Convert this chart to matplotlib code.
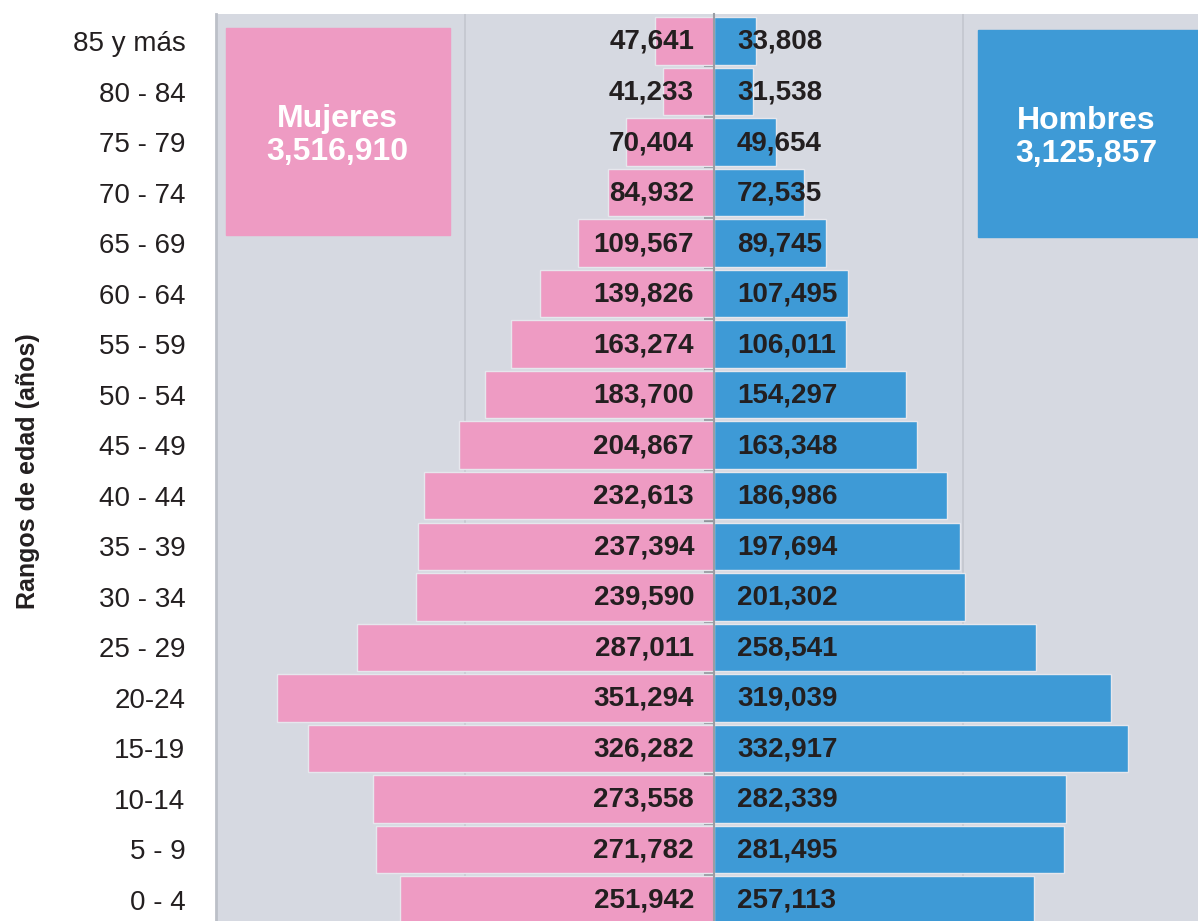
import numpy as np
import matplotlib
matplotlib.use("Agg")
import matplotlib.pyplot as plt
from matplotlib import font_manager
from matplotlib.patches import Rectangle

# age groups, youngest first (bottom of the pyramid)
grupos = ["0 - 4", "5 - 9", "10-14", "15-19", "20-24", "25 - 29", "30 - 34",
          "35 - 39", "40 - 44", "45 - 49", "50 - 54", "55 - 59", "60 - 64",
          "65 - 69", "70 - 74", "75 - 79", "80 - 84", "85 y más"]
mujeres = [251942, 271782, 273558, 326282, 351294, 287011, 239590, 237394,
           232613, 204867, 183700, 163274, 139826, 109567, 84932, 70404,
           41233, 47641]
hombres = [257113, 281495, 282339, 332917, 319039, 258541, 201302, 197694,
           186986, 163348, 154297, 106011, 107495, 89745, 72535, 49654,
           31538, 33808]
total_mujeres = 3516910
total_hombres = 3125857

PINK = "#ee9bc3"
BLUE = "#3e9ad6"
BG = "#d6d9e1"
DARK = "#231f20"
GRID = "#c3c6ce"

installed = {f.name for f in font_manager.fontManager.ttflist}
has_narrow = "Liberation Sans Narrow" in installed
plt.rcParams["font.family"] = ["Liberation Sans", "DejaVu Sans"]

W, H = 1198, 921
fig = plt.figure(figsize=(W / 100, H / 100), dpi=100)
ax = fig.add_axes([216 / W, 0, (W - 216) / W, 907 / H])
ax.set_facecolor(BG)

y = np.arange(len(grupos))
ax.barh(y, -np.array(mujeres), height=0.94, color=PINK,
        edgecolor="#e6e7ed", linewidth=1.0, zorder=2)
ax.barh(y, hombres, height=0.94, color=BLUE,
        edgecolor="#e6e7ed", linewidth=1.0, zorder=2)

for yi, m, h in zip(y, mujeres, hombres):
    ax.annotate(f"{m:,}", (0, yi), xytext=(-20, -1), textcoords="offset pixels",
                ha="right", va="center", fontsize=20, fontweight="bold",
                color=DARK, zorder=4)
    ax.annotate(f"{h:,}", (0, yi), xytext=(23, -1), textcoords="offset pixels",
                ha="left", va="center", fontsize=20, fontweight="bold",
                color=DARK, zorder=4)

ax.set_xlim(-400000, 388755)
ax.set_ylim(-0.416, 17.534)
ax.set_xticks([-200000, 200000])
ax.xaxis.grid(True, color=GRID, linewidth=1.2, zorder=0)
ax.set_axisbelow(True)
ax.tick_params(axis="x", bottom=False, labelbottom=False)

ax.set_yticks(y[:-1] + 0.5, minor=True)
ax.set_yticks(y)
ax.set_yticklabels(grupos)
ax.tick_params(axis="y", which="major", length=0, pad=22,
               labelsize=20, labelcolor=DARK)
ax.tick_params(axis="y", which="minor", left=False, right=True,
               direction="in", length=7, width=1.5, color="#8f939a")

# centre line doubles as the right spine
for s in ("top", "bottom"):
    ax.spines[s].set_visible(False)
ax.spines["right"].set_position(("data", 0))
ax.spines["right"].set_color("#9a9da4")
ax.spines["right"].set_linewidth(1.5)
ax.spines["right"].set_zorder(3)
ax.spines["left"].set_color("#bcc0c8")
ax.spines["left"].set_linewidth(2)

# totals boxes
ax.add_patch(Rectangle((0.0102, 0.756), 0.228, 0.229, transform=ax.transAxes,
                       color=PINK, zorder=3))
ax.text(0.124, 0.866, f"Mujeres\n{total_mujeres:,}", transform=ax.transAxes,
        ha="center", va="center", fontsize=23, fontweight="bold",
        color="white", linespacing=1.15, zorder=4)
ax.add_patch(Rectangle((0.776, 0.754), 0.23, 0.228, transform=ax.transAxes,
                       color=BLUE, zorder=3, clip_on=True))
ax.text(0.886, 0.864, f"Hombres\n{total_hombres:,}", transform=ax.transAxes,
        ha="center", va="center", fontsize=23, fontweight="bold",
        color="white", linespacing=1.15, zorder=4)

if has_narrow:
    fig.text(28 / W, 0.4886, "Rangos de edad (años)", rotation=90,
             ha="center", va="center", fontsize=21, fontweight="bold",
             color=DARK, family=["Liberation Sans Narrow", "DejaVu Sans"])
else:
    fig.text(28 / W, 0.4886, "Rangos de edad (años)", rotation=90,
             ha="center", va="center", fontsize=18, fontweight="bold",
             color=DARK)

fig.savefig("out.png", dpi=100)
